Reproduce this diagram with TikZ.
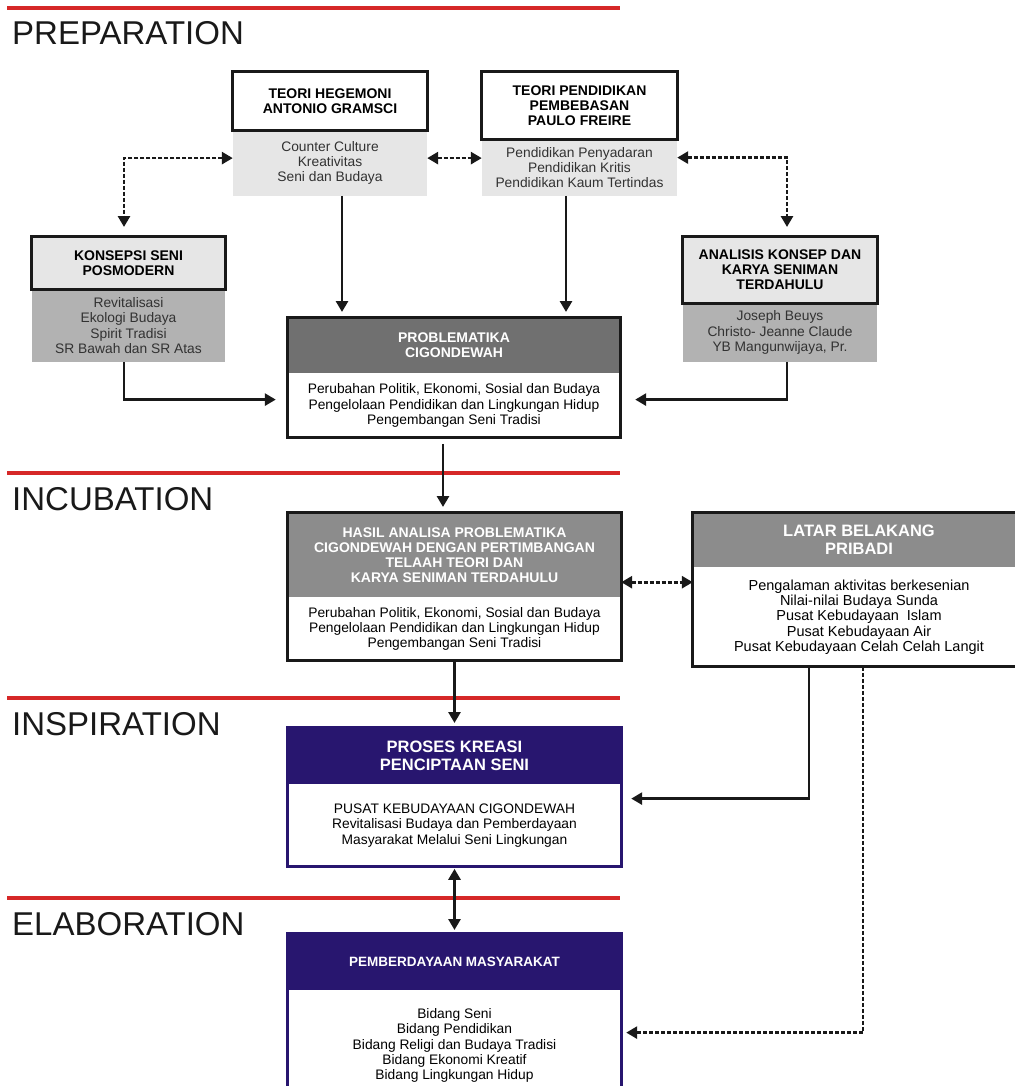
\documentclass[tikz,border=0pt]{standalone}
\usepackage{fontspec}
\setmainfont{Liberation Sans}
\usetikzlibrary{arrows.meta}
\definecolor{SecRed}{RGB}{214,40,40}
\definecolor{BoxNavy}{RGB}{40,22,111}
\definecolor{LightG}{RGB}{230,230,230}
\definecolor{MidG}{RGB}{178,178,178}
\definecolor{DarkG}{RGB}{112,112,112}
\definecolor{HeadG}{RGB}{140,140,140}
\definecolor{TextG}{RGB}{50,50,50}
\newcommand{\hdrfont}{\bfseries\fontsize{14}{15}\selectfont}
\newcommand{\bigfont}{\bfseries\fontsize{16.5}{18}\selectfont}
\newcommand{\bodyfont}{\fontsize{13.8}{15.2}\selectfont}

\begin{document}
\begin{tikzpicture}[x=1pt,y=-1pt,>={Triangle[width=12pt,length=11pt]},
  secline/.style={SecRed,line width=3.3pt},
  seclbl/.style={anchor=base west,inner sep=0pt,font=\fontsize{33}{33}\selectfont,text=black!90},
  hdr/.style={fill=#1,font=\hdrfont,align=center,inner sep=0pt,anchor=north,minimum width=194pt},
  bodytxt/.style={fill=#1,font=\bodyfont,text=TextG,align=center,inner sep=0pt,anchor=north,minimum width=194pt},
  frame/.style={draw=#1,line width=3pt},
  sl/.style={black!90,line width=2.8pt},
  dl/.style={sl,dash pattern=on 4pt off 2pt}]
\useasboundingbox (0,0) rectangle (1014,1086);
\foreach \y/\lbl in {8/PREPARATION,473/INCUBATION,698/INSPIRATION,898/ELABORATION} {
   \draw[secline] (7,\y) -- (620,\y);
   \node[seclbl] (sec\lbl) at (12,\y+37) {\lbl};
}
\node[hdr=white,minimum height=58pt] (gramsciH) at (330,72) {TEORI HEGEMONI\\ANTONIO GRAMSCI};
\node[bodytxt=LightG,minimum height=65pt] (gramsciB) at (gramsciH.south) {Counter Culture\\Kreativitas\\Seni dan Budaya};
\node[hdr=white,minimum width=195pt,minimum height=67pt] (freireH) at (579.5,72) {TEORI PENDIDIKAN\\PEMBEBASAN\\PAULO FREIRE};
\node[bodytxt=LightG,minimum width=195pt,minimum height=56pt] (freireB) at (freireH.south) {Pendidikan Penyadaran\\Pendidikan Kritis\\Pendidikan Kaum Tertindas};
\node[hdr=LightG,minimum width=193pt,minimum height=53pt] (konsepsiH) at (128.5,236) {KONSEPSI SENI\\POSMODERN};
\node[bodytxt=MidG,minimum width=193pt,minimum height=72pt] (konsepsiB) at (konsepsiH.south) {Revitalisasi\\Ekologi Budaya\\Spirit Tradisi\\SR Bawah dan SR Atas};
\node[hdr=LightG,minimum height=67pt] (analisisH) at (780,236) {ANALISIS KONSEP DAN\\KARYA SENIMAN\\TERDAHULU};
\node[bodytxt=MidG,minimum height=58pt] (analisisB) at (analisisH.south) {Joseph Beuys\\Christo- Jeanne Claude\\YB Mangunwijaya, Pr.};

\node[hdr=DarkG,text=white,minimum width=332pt,minimum height=56pt] (problemH) at (454,317) {PROBLEMATIKA\\CIGONDEWAH};
\node[bodytxt=white,text=black,minimum width=332pt,minimum height=64pt] (problemB) at (problemH.south) {Perubahan Politik, Ekonomi, Sosial dan Budaya\\Pengelolaan Pendidikan dan Lingkungan Hidup\\Pengembangan Seni Tradisi};
\node[hdr=HeadG,text=white,minimum width=333pt,minimum height=85pt] (hasilH) at (454.5,512) {HASIL ANALISA PROBLEMATIKA\\CIGONDEWAH DENGAN PERTIMBANGAN\\TELAAH TEORI DAN\\KARYA SENIMAN TERDAHULU};
\node[bodytxt=white,text=black,minimum width=333pt,minimum height=63pt] (hasilB) at (hasilH.south) {Perubahan Politik, Ekonomi, Sosial dan Budaya\\Pengelolaan Pendidikan dan Lingkungan Hidup\\Pengembangan Seni Tradisi};
\node[hdr=HeadG,text=white,font=\bigfont,minimum width=332pt,minimum height=55pt] (latarH) at (859,512) {LATAR BELAKANG\\PRIBADI};
\node[bodytxt=white,text=black,font=\fontsize{14.5}{15.2}\selectfont,minimum width=332pt,minimum height=99pt] (latarB) at (latarH.south) {Pengalaman aktivitas berkesenian\\Nilai-nilai Budaya Sunda\\Pusat Kebudayaan\ \ Islam\\Pusat Kebudayaan Air\\Pusat Kebudayaan Celah Celah Langit};
\node[hdr=BoxNavy,text=white,font=\bigfont,minimum width=333pt,minimum height=57pt] (prosesH) at (454.5,727) {PROSES KREASI\\PENCIPTAAN SENI};
\node[bodytxt=white,text=black,minimum width=333pt,minimum height=82pt] (prosesB) at (prosesH.south) {PUSAT KEBUDAYAAN CIGONDEWAH\\Revitalisasi Budaya dan Pemberdayaan\\Masyarakat Melalui Seni Lingkungan};
\node[hdr=BoxNavy,text=white,font=\bfseries\fontsize{13.5}{15}\selectfont,minimum width=333pt,minimum height=57pt] (pemberH) at (454.5,933) {PEMBERDAYAAN MASYARAKAT};
\node[bodytxt=white,text=black,minimum width=333pt,minimum height=110pt] (pemberB) at (pemberH.south) {Bidang Seni\\Bidang Pendidikan\\Bidang Religi dan Budaya Tradisi\\Bidang Ekonomi Kreatif\\Bidang Lingkungan Hidup};

\foreach \n in {gramsciH,freireH,konsepsiH,analisisH}
   \draw[frame=black!90] (\n.north west) rectangle (\n.south east);
\foreach \a/\b in {problemH/problemB,hasilH/hasilB,latarH/latarB}
   \draw[frame=black!90] (\a.north west) rectangle (\b.south east);
\foreach \a/\b in {prosesH/prosesB,pemberH/pemberB}
   \draw[frame=BoxNavy] (\a.north west) rectangle (\b.south east);

\draw[dl,<->,shorten >=9pt] ([yshift=5pt]gramsciB.west) -| ([xshift=-4.5pt]konsepsiH.north);
\draw[dl,<->,shorten >=9pt] ([yshift=10pt]freireB.east) -| ([xshift=7pt]analisisH.north);
\draw[dl,<->] ([yshift=5pt]gramsciB.east) -- ([yshift=5pt]gramsciB.east -| freireB.west);
\draw[dl,<->] ([yshift=-27.5pt]hasilH.east) -- ([yshift=-27.5pt]hasilH.east -| latarB.west);
\draw[dl,->,shorten >=5pt] ([xshift=4pt]latarB.south) |- ([yshift=13pt]pemberB.east);

\draw[sl,->,shorten >=5pt] ([xshift=12pt]gramsciB.south) -- ([xshift=12pt]gramsciB.south |- problemH.north);
\draw[sl,->,shorten >=5pt] ([xshift=-13.5pt]freireB.south) -- ([xshift=-13.5pt]freireB.south |- problemH.north);
\draw[sl,->,shorten >=12pt] ([xshift=-4.5pt]konsepsiB.south) |- ([yshift=6pt]problemB.west);
\draw[sl,->,shorten >=15pt] ([xshift=7pt]analisisB.south) |- ([yshift=6pt]problemB.east);
\draw[sl,->,shorten <=6pt,shorten >=5pt] ([xshift=-11pt]problemB.south) -- ([xshift=-11pt]problemB.south |- hasilH.north);
\draw[sl,->,shorten >=4pt] (hasilB.south) -- (prosesH.north);
\draw[sl,->,shorten >=10pt] ([xshift=-50pt]latarB.south) |- ([yshift=27pt]prosesB.east);
\draw[sl,<->,shorten <=2pt,shorten >=3pt] (prosesB.south) -- (pemberH.north);
\end{tikzpicture}
\end{document}
